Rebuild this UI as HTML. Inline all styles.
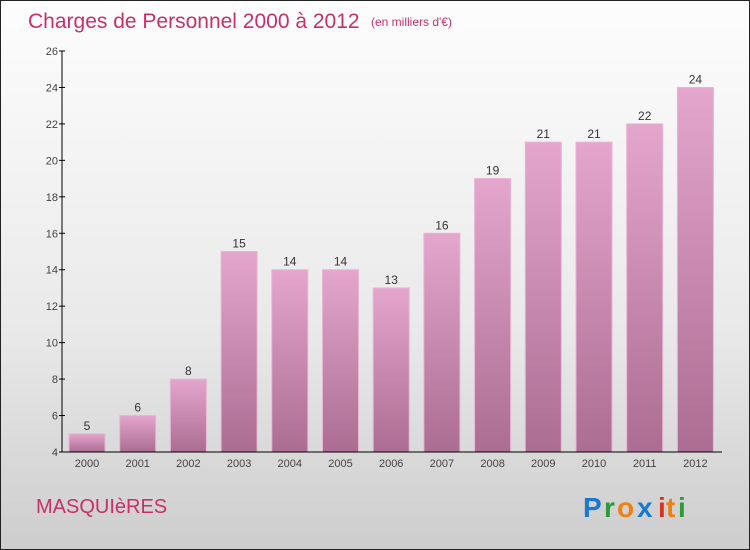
<!DOCTYPE html>
<html><head><meta charset="utf-8"><style>
body{margin:0}
#c{width:748px;height:548px;border:1px solid #222;position:relative;background:linear-gradient(#fdfdfd,#e9e9e9 60%,#cdcdcd);font-family:"Liberation Sans",sans-serif;overflow:hidden}
</style></head><body>
<div id="c">
<svg width="748" height="548" style="position:absolute;left:0;top:0">
<defs><linearGradient id="g" x1="0" y1="0" x2="0" y2="1"><stop offset="0" stop-color="#e4a6cc"/><stop offset="1" stop-color="#ac6d93"/></linearGradient></defs>
<text x="27" y="27" font-size="21" fill="#c8306a">Charges de Personnel 2000 à 2012</text>
<text x="370" y="25" font-size="12" fill="#c8306a">(en milliers d'€)</text>
<g id="plot"></g>
<text x="35" y="512" font-size="20" fill="#c8306a">MASQUIèRES</text>
<g font-size="28" font-weight="bold">
<text x="582" y="516" fill="#1a78d0">P</text><text x="603" y="516" fill="#2a9a3a">r</text><text x="616" y="516" fill="#f08010">o</text><text x="636" y="516" fill="#1a78d0">x</text><text x="657" y="516" fill="#e03020">i</text><text x="665" y="516" fill="#f08010">t</text><text x="677" y="516" fill="#2a9a3a">i</text>
</g>
</svg>
</div>
<script>
const years=["2000","2001","2002","2003","2004","2005","2006","2007","2008","2009","2010","2011","2012"];
const values=[5,6,8,15,14,14,13,16,19,21,21,22,24];
const yTicks=[4,6,8,10,12,14,16,18,20,22,24,26];
const NS="http://www.w3.org/2000/svg";
const g=document.getElementById('plot');
const y=v=>451-(v-4)*(401/22);
const x=i=>86+i*50.7;
function mk(t,a,txt){const e=document.createElementNS(NS,t);for(const k in a)e.setAttribute(k,a[k]);if(txt!==undefined)e.textContent=txt;g.appendChild(e);return e;}
values.forEach((v,i)=>{
 const r=mk('rect',{x:x(i)-18,y:y(v),width:36,height:451-y(v),fill:'url(#g)',stroke:'#e9b5d3','stroke-width':1});
 
 
 const t=mk('text',{x:x(i),y:y(v)-4,'font-size':12,fill:'#333','text-anchor':'middle'},v);
 
 
 const l=mk('text',{x:x(i),y:466,'font-size':11,fill:'#444','text-anchor':'middle'},years[i]);
 
 
});
yTicks.forEach(v=>{
 const t=mk('text',{x:57,y:y(v)+4,'font-size':11,fill:'#444','text-anchor':'end'},v);
 
 
 mk('line',{x1:58,x2:64,y1:y(v),y2:y(v),stroke:'#000'});
});
const ya=mk('line',{x1:61,x2:61,y1:50,y2:451,stroke:'#000'});


const xa=mk('line',{x1:61,x2:721,y1:451,y2:451,stroke:'#000'});


</script>
</body></html>
